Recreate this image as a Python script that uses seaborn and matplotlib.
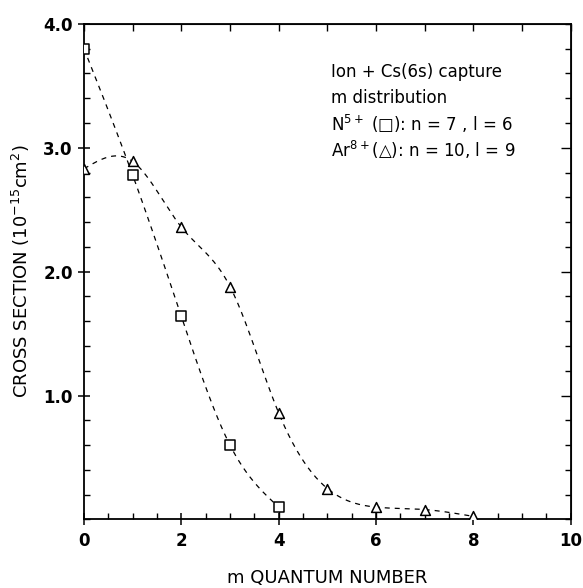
import numpy as np
import pandas as pd
import matplotlib
matplotlib.use("Agg")
import matplotlib.pyplot as plt
import seaborn as sns
from matplotlib.ticker import MultipleLocator, FixedLocator, NullFormatter

# ---- data ----
m_n5 = [0, 1, 2, 3, 4]
cs_n5 = [3.80, 2.78, 1.64, 0.60, 0.10]
m_ar8 = [0, 1, 2, 3, 4, 5, 6, 7, 8]
cs_ar8 = [2.83, 2.89, 2.36, 1.88, 0.86, 0.25, 0.10, 0.08, 0.025]
x_ticks = [0, 2, 4, 6, 8, 10]
y_ticks = [1.0, 2.0, 3.0, 4.0]
y_tick_labels = ["1.0", "2.0", "3.0", "4.0"]
legend_lines = ["Ion + Cs(6s) capture",
                "m distribution",
                "N$^{5+}$ (\u25a1): n = 7 , l = 6",
                "Ar$^{8+}$(\u25b3): n = 10, l = 9"]


def natural_spline(x, y, n=300):
    x = np.asarray(x, float)
    y = np.asarray(y, float)
    k = len(x)
    h = np.diff(x)
    A = np.zeros((k, k))
    b = np.zeros(k)
    A[0, 0] = 1
    A[-1, -1] = 1
    for i in range(1, k - 1):
        A[i, i - 1] = h[i - 1]
        A[i, i] = 2 * (h[i - 1] + h[i])
        A[i, i + 1] = h[i]
        b[i] = 6 * ((y[i + 1] - y[i]) / h[i] - (y[i] - y[i - 1]) / h[i - 1])
    M = np.linalg.solve(A, b)
    xs = np.linspace(x[0], x[-1], n)
    idx = np.clip(np.searchsorted(x, xs) - 1, 0, k - 2)
    x0, x1 = x[idx], x[idx + 1]
    hh = x1 - x0
    t0, t1 = x1 - xs, xs - x0
    ys = (M[idx] * t0 ** 3 / (6 * hh) + M[idx + 1] * t1 ** 3 / (6 * hh)
          + (y[idx] / hh - M[idx] * hh / 6) * t0
          + (y[idx + 1] / hh - M[idx + 1] * hh / 6) * t1)
    return xs, ys


sns.set_style("ticks")
plt.rcParams["font.family"] = ["DejaVu Sans"]
plt.rcParams["text.color"] = "black"
plt.rcParams["axes.labelcolor"] = "black"
plt.rcParams["xtick.color"] = "black"
plt.rcParams["ytick.color"] = "black"

fig = plt.figure(figsize=(5.83, 5.88), dpi=100)
ax = fig.add_axes([0.144, 0.1165, 0.835, 0.843])

df_n5 = pd.DataFrame({"m": m_n5, "cs": cs_n5})
df_ar8 = pd.DataFrame({"m": m_ar8, "cs": cs_ar8})

xs1, ys1 = natural_spline(m_n5, cs_n5)
xs2, ys2 = natural_spline(m_ar8, cs_ar8)
sns.lineplot(x=xs1, y=ys1, ax=ax, color="black", lw=0.9, linestyle=(0, (4, 4)))
sns.lineplot(x=xs2, y=ys2, ax=ax, color="black", lw=0.9, linestyle=(0, (4, 4)))

# small error bars down to the axis
ax.vlines([m_n5[4]], 0, cs_n5[4], color="black", lw=1)
ax.vlines([m_ar8[6]], 0, cs_ar8[6], color="black", lw=1)

sns.scatterplot(data=df_n5, x="m", y="cs", ax=ax, marker="s", s=45,
                facecolor="white", edgecolor="black", linewidth=1.1, zorder=5)
sns.scatterplot(data=df_ar8, x="m", y="cs", ax=ax, marker="^", s=50,
                facecolor="white", edgecolor="black", linewidth=1.1, zorder=5)

ax.set_xlim(0, 10)
ax.set_ylim(0, 4.0)

ax.xaxis.set_major_locator(FixedLocator(x_ticks))
ax.xaxis.set_minor_locator(MultipleLocator(0.5))
ax.yaxis.set_major_locator(FixedLocator(y_ticks))
ax.set_yticklabels(y_tick_labels)
ax.yaxis.set_minor_locator(MultipleLocator(0.2))

ax.tick_params(axis="both", which="major", direction="inout", length=8,
               width=1.1, labelsize=12)
ax.tick_params(axis="both", which="minor", direction="in", length=4, width=1)
for lab in ax.get_xticklabels() + ax.get_yticklabels():
    lab.set_fontweight("bold")
ax.tick_params(axis="x", which="major", pad=5)
ax.tick_params(axis="y", which="major", pad=4)

for sp in ax.spines.values():
    sp.set_visible(True)
    sp.set_linewidth(1.3)
    sp.set_color("black")

top = ax.secondary_xaxis("top")
top.xaxis.set_major_locator(MultipleLocator(1))
top.tick_params(direction="in", length=5, width=1, labeltop=False)
top.xaxis.set_major_formatter(NullFormatter())

right = ax.secondary_yaxis("right")
right.yaxis.set_major_locator(FixedLocator([1.0, 2.0, 3.0]))
right.yaxis.set_minor_locator(MultipleLocator(0.2))
right.tick_params(which="major", direction="in", length=7, width=1, labelright=False)
right.tick_params(which="minor", direction="in", length=4, width=1)
right.yaxis.set_major_formatter(NullFormatter())

ax.set_xlabel("m QUANTUM NUMBER", fontsize=13, labelpad=14)
ax.set_ylabel("CROSS SECTION (10$^{-15}$cm$^{2}$)", fontsize=13, labelpad=8)

for frac, line in zip([0.903, 0.851, 0.798, 0.746], legend_lines):
    ax.text(0.508, frac, line, transform=ax.transAxes, fontsize=12,
            va="center", ha="left")

fig.savefig("out.png", dpi=100)
